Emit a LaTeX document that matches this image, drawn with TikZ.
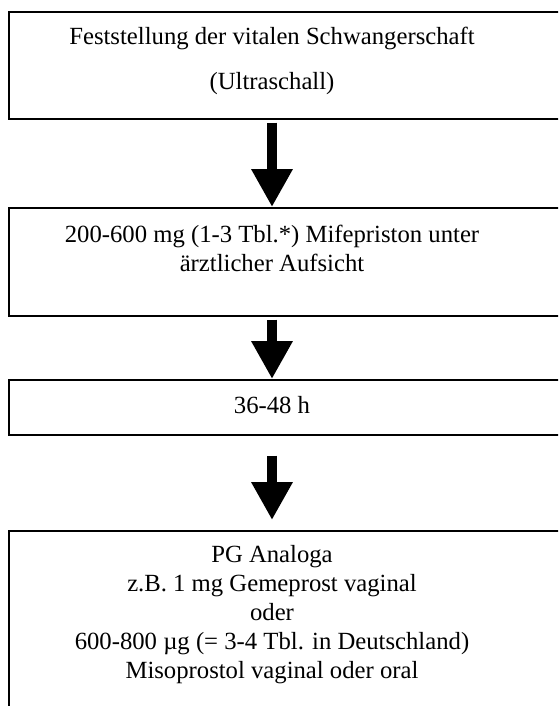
\documentclass[tikz,border=0pt]{standalone}
\usepackage{fontspec}
\setmainfont{Liberation Serif}
\usetikzlibrary{arrows.meta}
\begin{document}
\begin{tikzpicture}[x=0.5pt,y=-0.5pt,
  frame/.style={draw,line width=0.8pt,minimum width=296pt,anchor=north west,inner sep=0pt},
  txt/.style={align=center,font=\fontsize{12.35}{14.5}\selectfont,inner sep=0pt},
  arr/.style={line width=5pt,-{Triangle[length=19pt,width=19.5pt]}}]
\useasboundingbox (0,0) rectangle (558,706);
\clip (0,0) rectangle (558,706);

\node[frame,minimum height=53.5pt] (b1) at (8,11) {};
\node[frame,minimum height=54pt] (b2) at (8,207) {};
\node[frame,minimum height=27.5pt] (b3) at (8,379) {};
\node[frame,minimum height=115pt] (b4) at (8,530) {};

\node[txt] (t1) at (272,61) {Feststellung der vitalen Schwangerschaft\\[8pt](Ultraschall)};
\node[txt] (t2) at (272,248) {200-600 mg (1-3 Tbl.*) Mifepriston unter\\ärztlicher Aufsicht};
\node[txt] (t3) at (272,405) {36-48 h};
\node[txt] (t4) at (272,615) {PG Analoga\\z.B. 1 mg Gemeprost vaginal\\oder\\600-800 µg (= 3-4 Tbl. in Deutschland)\\Misoprostol vaginal oder oral};

\draw[arr,shorten <=1.5pt] (b1.south -| t1) -- (b2.north -| t1);
\draw[arr,shorten <=1.5pt] (b2.south -| t1) -- (b3.north -| t1);
\draw[arr,shorten <=10pt,shorten >=5pt] (b3.south -| t1) -- (b4.north -| t1);
\end{tikzpicture}
\end{document}
